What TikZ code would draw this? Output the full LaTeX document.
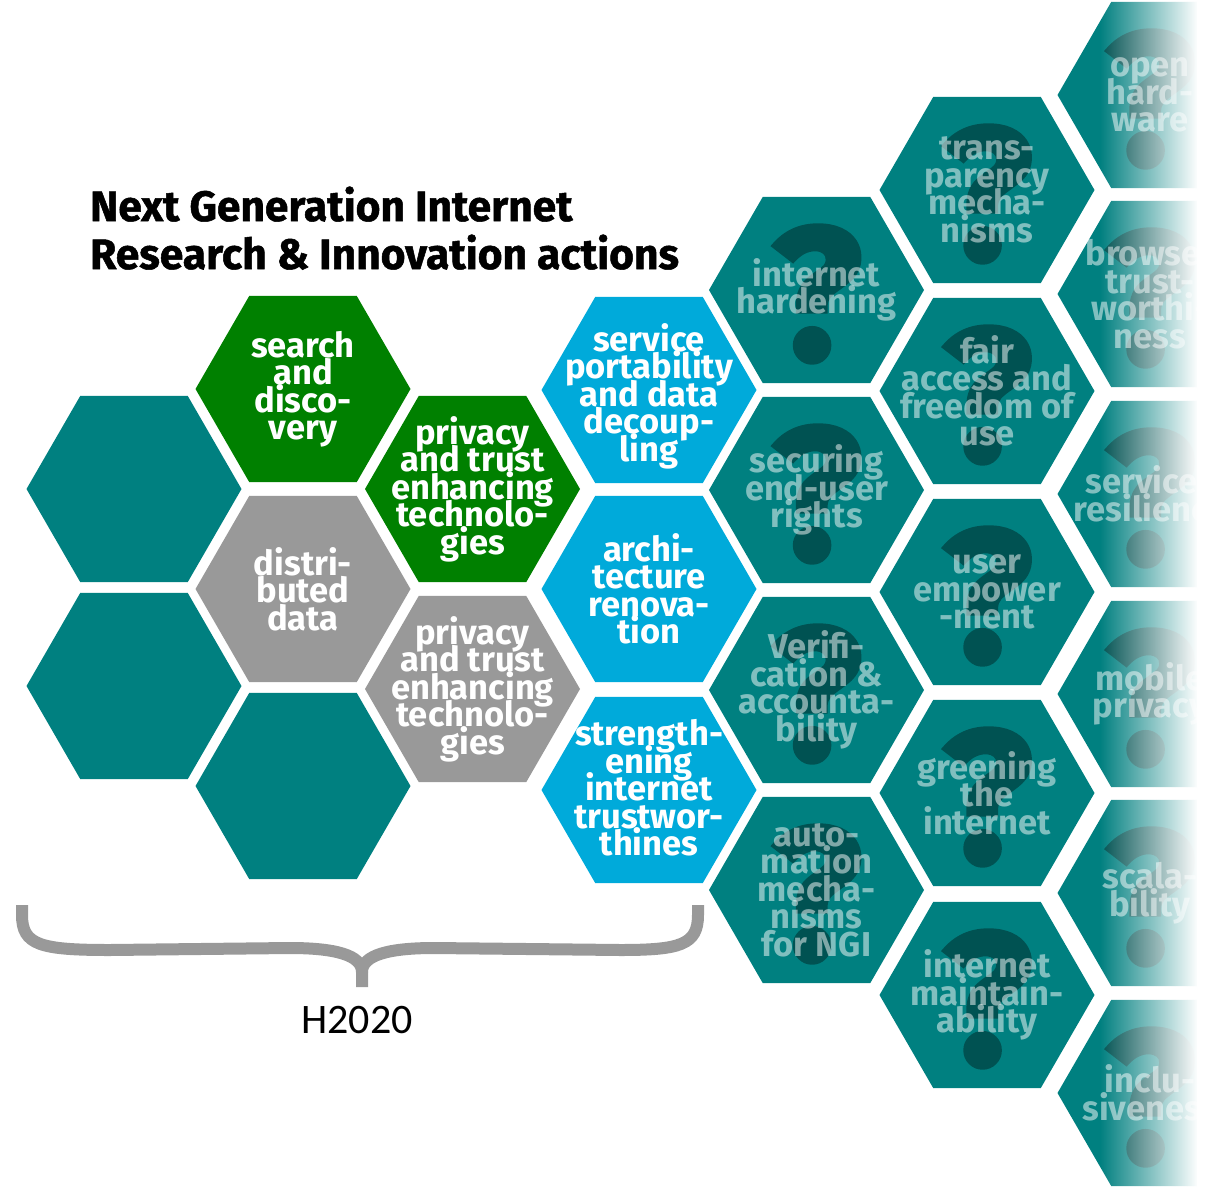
\documentclass[tikz,border=0pt]{standalone}
\usepackage{fontspec}
\setmainfont{Fira Sans}
\newfontfamily\carl{Carlito}
\newfontfamily\titlef[BoldFeatures={FakeBold=1.2}]{Fira Sans}
\newfontfamily\qfont[BoldFeatures={FakeBold=2.5}]{Fira Sans}
\usetikzlibrary{shapes.geometric,fadings}
\definecolor{tealc}{RGB}{0,128,128}
\definecolor{qmark}{RGB}{0,82,82}
\definecolor{greenc}{RGB}{0,128,0}
\definecolor{grayc}{RGB}{153,153,153}
\definecolor{bluec}{RGB}{0,170,218}
\tikzfading[name=fadeR, left color=transparent!100, right color=transparent!0]
\newcommand\qhex[5]{%
  \node[hex, fill=tealc] (#1) at (#2,#3) {};
  \node[qm, xshift=#5, yshift=-4pt] at (#1) {?};
  \node[qtxt, xshift=#5] at (#1) {#4};
}
\begin{document}
\begin{tikzpicture}[x=1pt,y=-1pt,
  hex/.style={regular polygon, regular polygon sides=6, minimum size=215pt, inner sep=0pt, outer sep=0pt, draw=none},
  htxt/.style={text=white, align=center, inner sep=0pt, font={\bfseries\fontsize{34.5}{27.5}\selectfont\lineskiplimit=-100pt}},
  qtxt/.style={htxt, text opacity=0.5},
  qm/.style={text=qmark, inner sep=0pt, font={\qfont\bfseries\fontsize{188}{188}\selectfont}},
  title/.style={anchor=base west, inner sep=0pt, font={\titlef\bfseries\fontsize{42.5}{42.5}\selectfont}},
  brace/.style={draw=grayc, line width=12pt}
]
\useasboundingbox (0,0) rectangle (1207,1191);

% title
\node[title] (t1) at (90,221) {Next Generation Internet};
\node[title] (t2) at (90,269) {Research \& Innovation actions};

% column 1
\node[hex, fill=tealc] (h11) at (134,489) {};
\node[hex, fill=tealc] (h12) at (134,686) {};
% column 2
\node[hex, fill=greenc] (h21) at (303,389) {};
\node[htxt] at (h21) {search\\and\\disco-\\very};
\node[hex, fill=grayc] (h22) at (303,589) {};
\node[htxt] at (h22) {distri-\\buted\\data};
\node[hex, fill=tealc] (h23) at (303,786) {};
% column 3
\node[hex, fill=greenc] (h31) at (472.5,489) {};
\node[htxt] at (h31) {privacy\\and trust\\enhancing\\technolo-\\gies};
\node[hex, fill=grayc] (h32) at (472.5,689) {};
\node[htxt] at (h32) {privacy\\and trust\\enhancing\\technolo-\\gies};
% column 4
\node[hex, fill=bluec] (h41) at (649,390) {};
\node[htxt, yshift=-6pt] at (h41) {service\\portability\\and data\\decoup-\\ling};
\node[hex, fill=bluec] (h42) at (649,589) {};
\node[htxt] at (h42) {archi-\\tecture\\renova-\\tion};
\node[hex, fill=bluec] (h43) at (649,790) {};
\node[htxt, yshift=2pt] at (h43) {strength-\\ening\\internet\\trustwor-\\thines};
% column 5
\qhex{h51}{816.5}{290}{internet\\hardening}{0pt}
\qhex{h52}{816.5}{490}{securing\\end-user\\rights}{0pt}
\qhex{h53}{816.5}{690}{Verifi-\\cation \&\\accounta-\\bility}{0pt}
\qhex{h54}{816.5}{890}{auto-\\mation\\mecha-\\nisms\\for NGI}{0pt}
% column 6
\qhex{h61}{987}{190}{trans-\\parency\\mecha-\\nisms}{0pt}
\qhex{h62}{987}{391}{fair\\access and\\freedom of\\use}{0pt}
\qhex{h63}{987}{592}{user\\empower\\-ment}{0pt}
\qhex{h64}{987}{793}{greening\\the\\internet}{0pt}
\qhex{h65}{987}{995}{internet\\maintain-\\ability}{0pt}
% column 7
\qhex{h71}{1165}{95}{open\\hard-\\ware}{-15pt}
\qhex{h72}{1165}{294}{browser\\trust-\\worthi-\\ness}{-15pt}
\qhex{h73}{1165}{494}{services\\resilience}{-15pt}
\qhex{h74}{1165}{694}{mobile\\privacy}{-15pt}
\qhex{h75}{1165}{893}{scala-\\bility}{-15pt}
\qhex{h76}{1165}{1093}{inclu-\\siveness}{-15pt}

% fade on the right
\fill[white, path fading=fadeR] (1100,-10) rectangle (1198,1201);
\fill[white] (1197,-10) rectangle (1215,1201);

% brace
\draw[brace] (22,905) -- (22,915) .. controls (22,945) and (40,950) .. (110,950) -- (290,948) .. controls (335,948) and (362,955) .. (362,972) -- (362,987);
\draw[brace] (362,972) .. controls (362,955) and (389,948) .. (434,948) -- (620,950) .. controls (680,950) and (698,945) .. (698,915) -- (698,905);
\node[anchor=base, inner sep=0pt, font={\carl\fontsize{42}{42}\selectfont}] (h2020) at (357,1033) {H2020};
\end{tikzpicture}
\end{document}
